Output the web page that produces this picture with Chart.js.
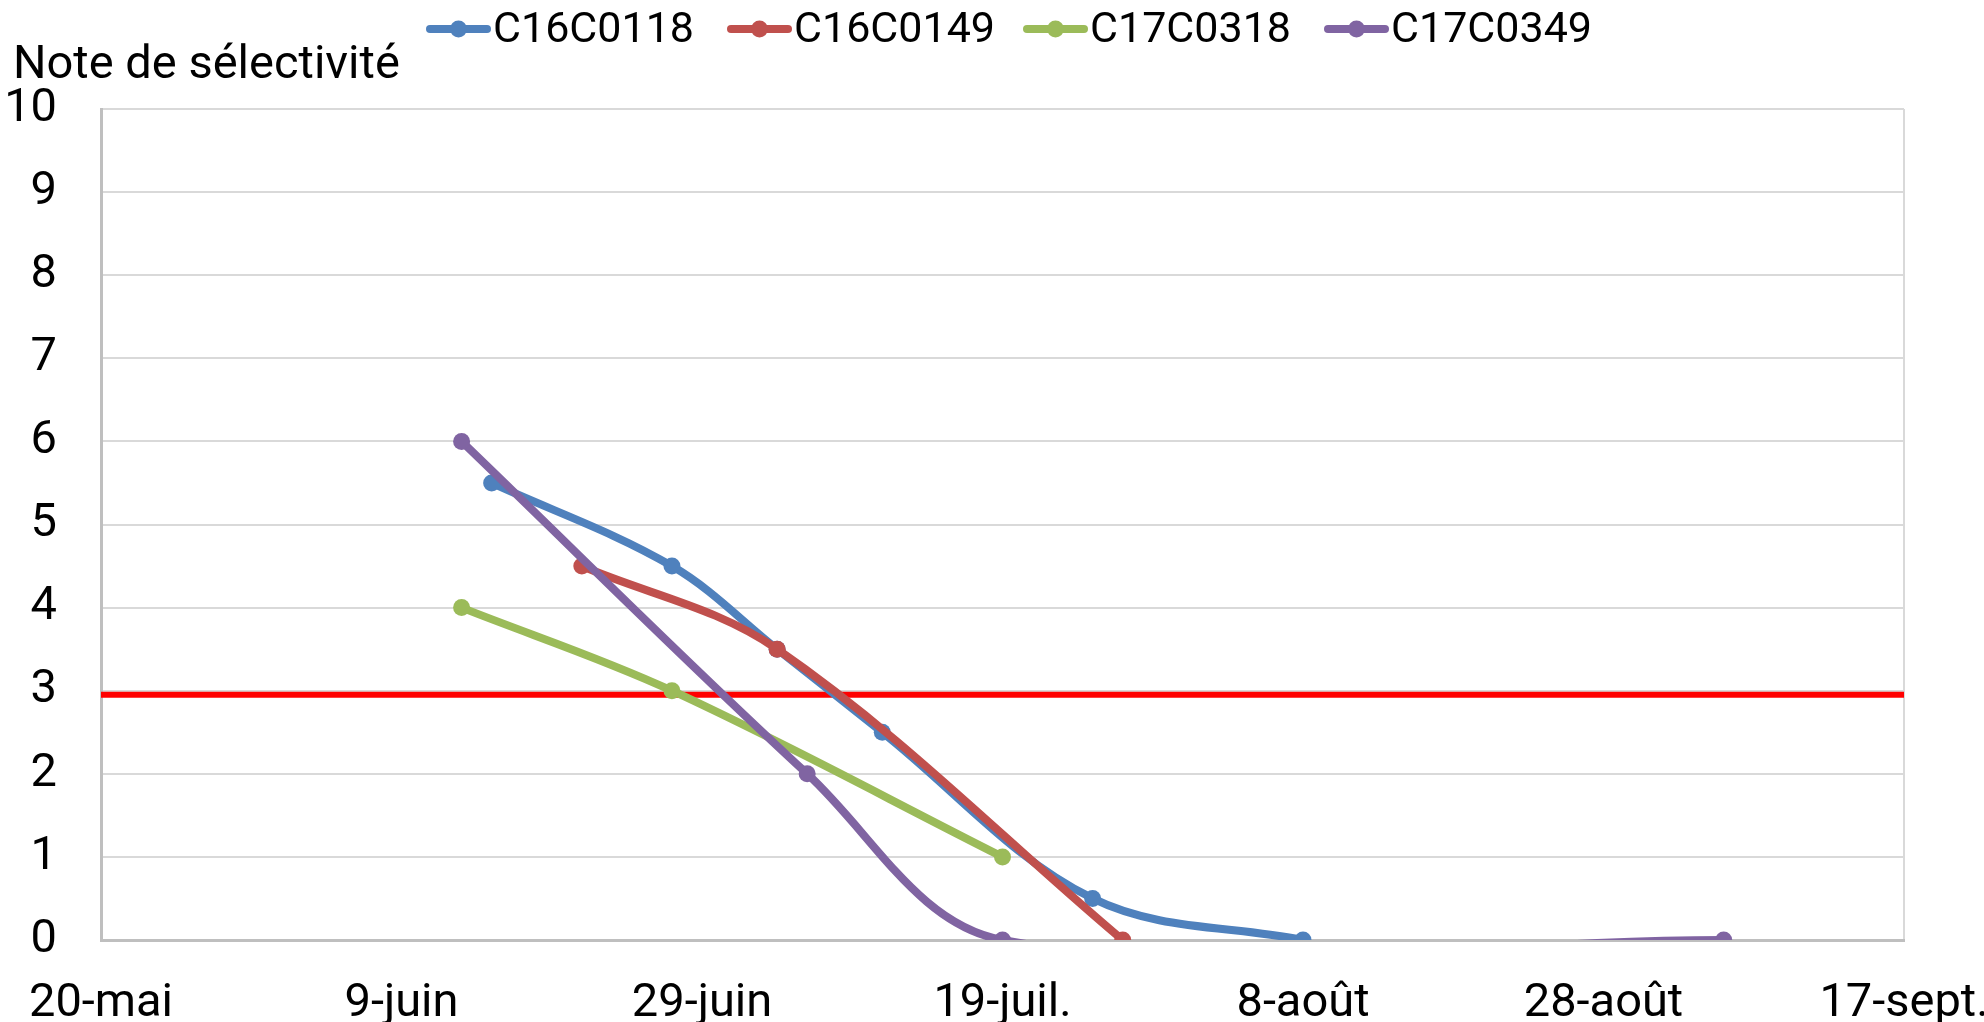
<!DOCTYPE html>
<html>
<head>
<meta charset="utf-8">
<script src="https://cdn.jsdelivr.net/npm/chart.js@4"></script>
<style>
  html, body { margin: 0; padding: 0; background: #fff; }
  #wrap { width: 1984px; height: 1022px; }
</style>
</head>
<body>
<div id="wrap"><canvas id="chart"></canvas></div>
<script>
const FONT = 'Roboto, "Noto Sans", sans-serif';
const FONT_SIZE = 47;
const LEGEND_FONT_SIZE = 43;

const startDate = '2018-05-20';
const xTickLabels = ['20-mai', '9-juin', '29-juin', '19-juil.', '8-août', '28-août', '17-sept.'];
const yTitle = 'Note de sélectivité';

const seriesNames = ['C16C0118', 'C16C0149', 'C17C0318', 'C17C0349'];
const seriesColors = ['#4F81BD', '#C0504D', '#9BBB59', '#8064A2'];

const dates118 = ['2018-06-15', '2018-06-27', '2018-07-04', '2018-07-11', '2018-07-25', '2018-08-08'];
const notes118 = [5.5, 4.5, 3.5, 2.5, 0.5, 0];

const dates149 = ['2018-06-21', '2018-07-04', '2018-07-27'];
const notes149 = [4.5, 3.5, 0];

const dates318 = ['2018-06-13', '2018-06-27', '2018-07-19'];
const notes318 = [4, 3, 1];

const dates349 = ['2018-06-13', '2018-07-06', '2018-07-19', '2018-09-05'];
const notes349 = [6, 2, 0, 0];

const thresholdX = [0, 120];
const thresholdY = [2.95, 2.95];

function dayOf(d) {
    return (Date.parse(d) - Date.parse(startDate)) / 86400000;
}

function toPoints(dates, notes) {
    return dates.map((d, i) => ({ x: dayOf(d), y: notes[i] }));
}

const seriesDates = [dates118, dates149, dates318, dates349];
const seriesNotes = [notes118, notes149, notes318, notes349];

const datasets = seriesNames.map((name, i) => ({
    label: name,
    data: toPoints(seriesDates[i], seriesNotes[i]),
    borderColor: seriesColors[i],
    backgroundColor: seriesColors[i],
    borderWidth: 8,
    pointRadius: 8.5,
    pointBorderWidth: 0,
    tension: 0.35,
    order: 10 - i
}));

datasets.push({
    label: '',
    data: thresholdX.map((x, i) => ({ x: x, y: thresholdY[i] })),
    borderColor: '#FF0000',
    borderWidth: 6,
    pointRadius: 0,
    tension: 0,
    order: 20
});

// titre de l'axe et légende dessinés à la main (ligne + marqueur comme Excel)
const legendStarts = [430, 731, 1027, 1328];

const textPlugin = {
    id: 'textPlugin',
    afterDraw(chart) {
        const ctx = chart.ctx;
        ctx.save();
        ctx.font = FONT_SIZE + 'px ' + FONT;
        ctx.fillStyle = '#000';
        ctx.textBaseline = 'middle';
        ctx.textAlign = 'left';
        ctx.fillText(yTitle, 13, 66);

        ctx.font = LEGEND_FONT_SIZE + 'px ' + FONT;
        const lineLen = 57, gap = 6, cy = 29;
        seriesNames.forEach((name, i) => {
            const x = legendStarts[i];
            ctx.strokeStyle = seriesColors[i];
            ctx.lineWidth = 8;
            ctx.lineCap = 'round';
            ctx.beginPath();
            ctx.moveTo(x, cy);
            ctx.lineTo(x + lineLen, cy);
            ctx.stroke();
            ctx.fillStyle = seriesColors[i];
            ctx.beginPath();
            ctx.arc(x + lineLen / 2, cy, 8.5, 0, Math.PI * 2);
            ctx.fill();
            ctx.fillStyle = '#000';
            ctx.fillText(name, x + lineLen + gap, cy + 2);
        });
        ctx.restore();
    }
};

new Chart(document.getElementById('chart'), {
    type: 'line',
    data: { datasets: datasets },
    options: {
        responsive: true,
        maintainAspectRatio: false,
        animation: false,
        devicePixelRatio: 1,
        layout: { padding: { top: 109, left: 0, right: 80, bottom: 0 } },
        elements: { line: { capBezierPoints: false } },
        plugins: {
            legend: { display: false },
            tooltip: { enabled: false }
        },
        scales: {
            x: {
                type: 'linear',
                min: 0,
                max: 120,
                afterFit(scale) {
                    scale.height = 82;
                    scale.paddingLeft = 0;
                    scale.paddingRight = 0;
                },
                grid: {
                    drawTicks: false,
                    color: (c) => (c.tick && c.tick.value === 120) ? '#D9D9D9' : 'rgba(0,0,0,0)',
                    lineWidth: 2
                },
                border: { color: '#BFBFBF', width: 3 },
                ticks: {
                    stepSize: 20,
                    padding: 36,
                    color: '#000',
                    font: { family: FONT, size: FONT_SIZE },
                    maxRotation: 0,
                    callback: (v) => xTickLabels[v / 20]
                }
            },
            y: {
                min: 0,
                max: 10,
                afterFit(scale) { scale.width = 101; },
                grid: { drawTicks: false, color: '#D9D9D9', lineWidth: 2 },
                border: { color: '#BFBFBF', width: 3 },
                ticks: {
                    stepSize: 1,
                    padding: 44,
                    color: '#000',
                    font: { family: FONT, size: FONT_SIZE }
                }
            }
        }
    },
    plugins: [textPlugin]
});
</script>
</body>
</html>
